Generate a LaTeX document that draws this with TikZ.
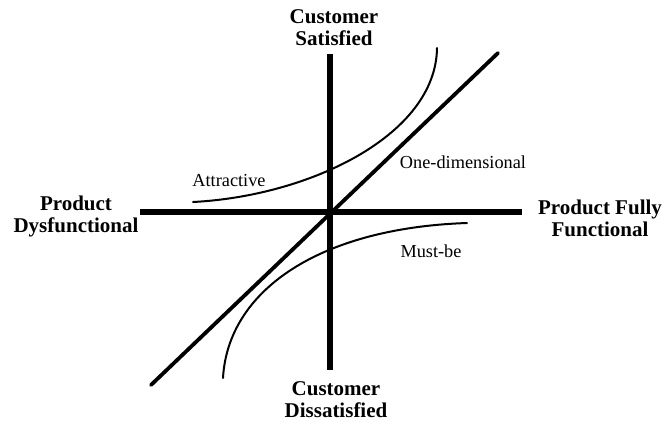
\documentclass[tikz,border=0pt]{standalone}
\usepackage{fontspec}
\setmainfont{Liberation Serif}
\begin{document}
\begin{tikzpicture}[x=1pt,y=-1pt,
  axis/.style={line width=6pt},
  diag/.style={line width=3.8pt,line cap=round},
  curve/.style={line width=2pt,line cap=round},
  big/.style={font=\fontsize{21}{22}\selectfont\bfseries,align=center,inner sep=0pt},
  lbl/.style={font=\fontsize{18.3}{20}\selectfont,inner sep=0pt}]
\useasboundingbox (0,0) rectangle (662,421);
\coordinate (L) at (140,212);
\coordinate (R) at (522,212);
\coordinate (T) at (330,54);
\coordinate (B) at (330,370);
\coordinate (D1) at (151,385);
\coordinate (D2) at (498,53);
\coordinate (A1) at (193,202);
\coordinate (A2) at (437,48);
\coordinate (M1) at (223,378);
\coordinate (M2) at (467,223);
\draw[axis] (L) -- (R);
\draw[axis] (T) -- (B);
\draw[diag] (D1) -- (D2);
\draw[curve] (A1) .. controls (310,196) and (436,135) .. (A2);
\draw[curve] (M1) .. controls (228,290) and (320,228) .. (M2);
\node[big] (ts) at (334,28) {Customer\\Satisfied};
\node[big] (bd) at (336,400) {Customer\\Dissatisfied};
\node[big] (lp) at (76,216) {Product\\Dysfunctional};
\node[big] (rp) at (600,218) {Product Fully\\Functional};
\node[lbl] (at) at (229,181) {Attractive};
\node[lbl] (od) at (463,162) {One-dimensional};
\node[lbl] (mb) at (431,251) {Must-be};
\end{tikzpicture}
\end{document}
